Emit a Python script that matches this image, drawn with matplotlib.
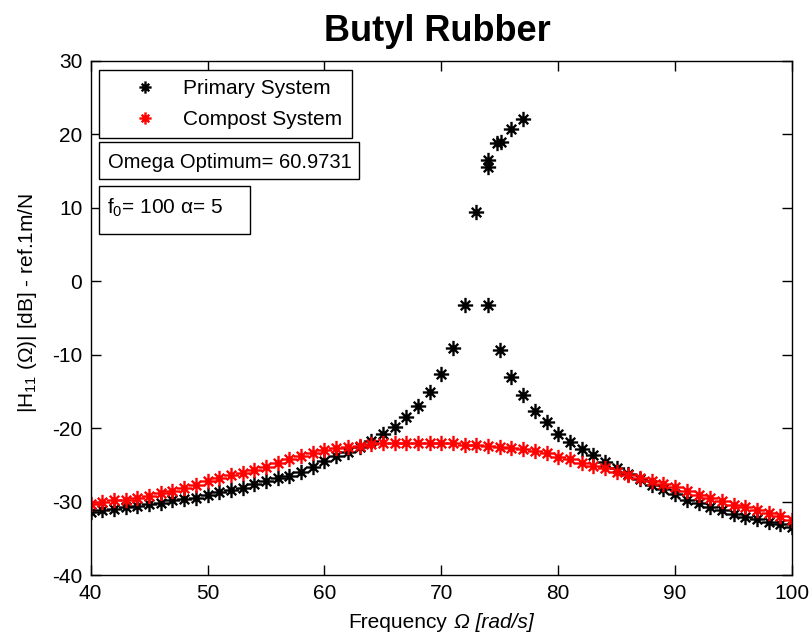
import numpy as np
import matplotlib
matplotlib.use('Agg')
import matplotlib.pyplot as plt
from matplotlib.path import Path
from matplotlib.patches import Rectangle
from matplotlib.offsetbox import TextArea, HPacker, AnchoredOffsetbox

plt.rcParams['font.family'] = ['Liberation Sans', 'DejaVu Sans']
plt.rcParams['mathtext.fontset'] = 'custom'
plt.rcParams['mathtext.rm'] = 'Liberation Sans'
plt.rcParams['mathtext.it'] = 'Liberation Sans:italic'
plt.rcParams['mathtext.bf'] = 'Liberation Sans:bold'
plt.rcParams['axes.unicode_minus'] = False

# data
compost_freq = list(range(40, 101))
compost_db = [-30.3, -30.0, -29.8, -29.7, -29.4, -29.2, -28.8, -28.5, -28.1, -27.7,
              -27.2, -26.8, -26.3, -26.0, -25.6, -25.2, -24.7, -24.2, -23.8, -23.3,
              -22.9, -22.7, -22.5, -22.4, -22.1, -22.0, -22.0, -22.0, -22.0, -22.0,
              -22.0, -22.0, -22.2, -22.3, -22.4, -22.5, -22.7, -22.8, -23.1, -23.4,
              -23.9, -24.2, -24.7, -25.1, -25.4, -25.9, -26.3, -26.8, -27.2, -27.6,
              -27.9, -28.5, -29.1, -29.5, -29.9, -30.4, -30.7, -31.1, -31.5, -31.9,
              -32.5]

primary_freq = list(range(40, 74)) + [74, 74, 74.8, 75.1, 76, 77] + list(range(74, 101))
primary_db = [-31.3, -31.1, -30.9, -30.7, -30.5, -30.3, -30.1, -29.8, -29.6, -29.4,
              -29.1, -28.7, -28.4, -28.1, -27.6, -27.2, -26.8, -26.5, -25.9, -25.3,
              -24.5, -23.8, -23.2, -22.5, -21.7, -20.7, -19.8, -18.5, -17.0, -15.1,
              -12.6, -9.1, -3.2, 9.4,
              15.5, 16.5, 18.8, 18.9, 20.7, 22.1,
              -3.2, -9.3, -13.0, -15.5, -17.6, -19.1, -20.7, -21.8, -22.8, -23.6,
              -24.6, -25.4, -26.2, -26.9, -27.7, -28.3, -28.9, -29.7, -30.2, -30.7,
              -31.1, -31.6, -32.0, -32.3, -32.7, -33.0, -33.4]

omega_opt = 60.9731
f0 = 100
alpha = 5

# asterisk marker: long + arms, shorter diagonals
d = 0.62
star = Path([(-1, 0), (1, 0), (0, -1), (0, 1), (-d, -d), (d, d), (-d, d), (d, -d)],
            [Path.MOVETO, Path.LINETO] * 4)

fs = 15

fig = plt.figure(figsize=(8.11, 6.39), dpi=100)
ax = fig.add_axes([0.1118, 0.0994, 0.8648, 0.8056])

ax.plot(primary_freq, primary_db, linestyle='none', marker=star, ms=11, mew=1.7,
        color='k', label='Primary System')
ax.plot(compost_freq, compost_db, linestyle='none', marker=star, ms=11, mew=1.7,
        color='r', label='Compost System')

ax.set_xlim(40, 100)
ax.set_ylim(-40, 30)
ax.set_xticks(np.arange(40, 101, 10))
ax.set_yticks(np.arange(-40, 31, 10))
ax.tick_params(direction='in', length=7, width=1, top=True, right=True,
               labelsize=fs, pad=6)
for s in ax.spines.values():
    s.set_linewidth(1)

ax.set_title('Butyl Rubber', fontsize=26, fontweight='bold', pad=14, x=0.494)
ax.set_ylabel(r'|H$_{11}$ (Ω)| [dB] - ref.1m/N', fontsize=fs)
ax.yaxis.set_label_coords(-0.074, 0.529)

# x label: plain word followed by italic symbol and unit
xlab = HPacker(children=[TextArea('Frequency', textprops=dict(fontsize=fs)),
                         TextArea('Ω [rad/s]', textprops=dict(fontsize=fs, style='italic'))],
               align='baseline', pad=0, sep=5)
fig.add_artist(AnchoredOffsetbox(loc='center', child=xlab, frameon=False, pad=0,
                                 borderpad=0, bbox_to_anchor=(0.5438, 0.0266),
                                 bbox_transform=fig.transFigure))

leg = ax.legend(loc='upper left', bbox_to_anchor=(0.0118, 0.982), borderaxespad=0,
                fontsize=fs, numpoints=1, handlelength=3.5, handletextpad=0.1,
                labelspacing=0.55, borderpad=0.45, fancybox=False, framealpha=1,
                edgecolor='k', markerscale=0.8)
leg.get_frame().set_linewidth(1)

# annotation boxes
for x0, y0, w, h in [(0.0118, 0.770, 0.3708, 0.072), (0.0118, 0.6634, 0.2154, 0.0932)]:
    ax.add_patch(Rectangle((x0, y0), w, h, transform=ax.transAxes, fc='white',
                           ec='k', lw=1, zorder=5))
ax.text(0.0247, 0.7916, 'Omega Optimum= %g' % omega_opt, transform=ax.transAxes,
        fontsize=14.5, va='baseline', ha='left', zorder=6)
ax.text(0.0232, 0.702, 'f$_0$= %d α= %d' % (f0, alpha), transform=ax.transAxes,
        fontsize=fs, va='baseline', ha='left', zorder=6)

fig.savefig('out.png', dpi=100)
